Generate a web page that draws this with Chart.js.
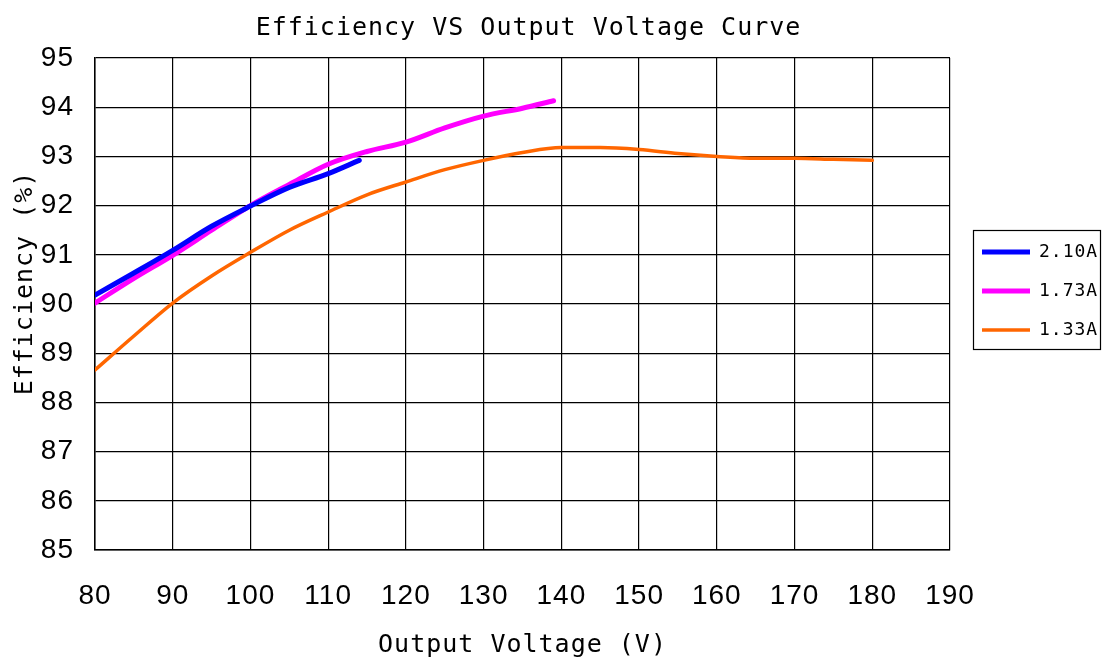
<!DOCTYPE html>
<html>
<head>
<meta charset="utf-8">
<script src="https://cdn.jsdelivr.net/npm/chart.js"></script>
<style>
html,body{margin:0;padding:0;background:#fff;}
#wrap{width:1103px;height:664px;}
</style>
</head>
<body>
<div id="wrap"><canvas id="c"></canvas></div>
<script>
const chartTitle = 'Efficiency VS Output Voltage Curve';
const xTitle = 'Output Voltage (V)';
const yTitle = 'Efficiency (%)';
const seriesNames = ['2.10A', '1.73A', '1.33A'];

const volt210 = [80, 85, 90, 95, 100, 105, 110, 114];
const eff210  = [90.18, 90.63, 91.09, 91.58, 91.99, 92.37, 92.65, 92.92];

const volt173 = [80, 85, 90, 95, 100, 105, 110, 115, 120, 125, 130, 135, 139];
const eff173  = [90.02, 90.52, 90.99, 91.5, 92.0, 92.43, 92.84, 93.1, 93.29, 93.58, 93.82, 93.98, 94.13];

const volt133 = [80, 85, 90, 95, 100, 105, 110, 115, 120, 125, 130, 135, 140, 145, 150, 155, 160, 165, 170, 175, 180];
const eff133  = [88.66, 89.35, 90.02, 90.57, 91.05, 91.5, 91.87, 92.22, 92.48, 92.73, 92.92, 93.08, 93.18, 93.18, 93.14, 93.06, 93.0, 92.96, 92.96, 92.94, 92.92];

const xMin = 80, xMax = 190, xStep = 10;
const yMin = 85, yMax = 95, yStep = 1;

function pts(xs, ys){ return xs.map((x,i)=>({x:x, y:ys[i]})); }

const monoFont = "'DejaVu Sans Mono', 'Liberation Mono', monospace";
const tickFont = "'Liberation Sans', Arial, sans-serif";

const layoutPlugin = {
  id: 'layoutTweaks',
  afterInit(chart){
    const L = chart.legend;
    if (L && !L._fitPatched){
      const origFit = L.fit;
      L.fit = function(){ origFit.call(this); this.width = 153; };
      L._fitPatched = true;
    }
  },
  beforeLayout(chart){ chart.ctx.letterSpacing = '1px'; },
  beforeDraw(chart){ chart.ctx.letterSpacing = '1px'; },
  afterLayout(chart){
    const L = chart.legend;
    if (L){ L.left += 11; L.right += 11; L.top -= 41; L.bottom -= 41; }
    const T = chart.titleBlock;
    if (T){ T.left += 6; T.right += 6; }
    const s = chart.scales.y;
    if (s && !s._titlePatched){
      const orig = s.drawTitle;
      s.drawTitle = function(){ const c = this.ctx; c.save(); c.translate(0, -21); orig.call(this); c.restore(); };
      s._titlePatched = true;
    }
  }
};

const legendBoxPlugin = {
  id: 'legendBox',
  afterDraw(chart){
    const L = chart.legend;
    if (!L || !L.legendHitBoxes || !L.legendHitBoxes.length) return;
    const hb = L.legendHitBoxes;
    const first = hb[0], last = hb[hb.length-1];
    const l = first.left - 9.5;
    const r = first.left + 117.5;
    const t = first.top + first.height/2 - 22;
    const b = last.top + last.height/2 + 19;
    const ctx = chart.ctx;
    ctx.save();
    ctx.strokeStyle = '#000';
    ctx.lineWidth = 1.2;
    ctx.strokeRect(Math.round(l)+0.5, Math.round(t)+0.5, Math.round(r-l), Math.round(b-t));
    ctx.restore();
  }
};

new Chart(document.getElementById('c'), {
  type: 'line',
  data: {
    datasets: [
      { label: seriesNames[0], data: pts(volt210, eff210), borderColor: '#0000ff', backgroundColor: '#0000ff', borderWidth: 5, borderCapStyle: 'round', pointRadius: 0, cubicInterpolationMode: 'monotone', fill: false },
      { label: seriesNames[1], data: pts(volt173, eff173), borderColor: '#ff00ff', backgroundColor: '#ff00ff', borderWidth: 5, borderCapStyle: 'round', pointRadius: 0, cubicInterpolationMode: 'monotone', fill: false },
      { label: seriesNames[2], data: pts(volt133, eff133), borderColor: '#ff6600', backgroundColor: '#ff6600', borderWidth: 3.5, borderCapStyle: 'round', pointRadius: 0, cubicInterpolationMode: 'monotone', fill: false }
    ]
  },
  options: {
    responsive: true,
    maintainAspectRatio: false,
    animation: false,
    layout: { padding: { left: 0, right: 0, top: 0, bottom: 0 } },
    plugins: {
      title: {
        display: true, text: chartTitle, color: '#000', fullSize: false,
        font: { family: monoFont, size: 25, weight: 'normal', lineHeight: 1.2 },
        padding: { top: 13, bottom: 15 }
      },
      legend: {
        position: 'right',
        labels: {
          color: '#000',
          font: { family: monoFont, size: 18, weight: 'normal' },
          usePointStyle: true, pointStyle: 'line', pointStyleWidth: 48,
          padding: 21
        }
      },
      tooltip: { enabled: false }
    },
    scales: {
      x: {
        type: 'linear', min: xMin, max: xMax,
        ticks: { stepSize: xStep, color: '#000', padding: 29, font: { family: tickFont, size: 28 } },
        grid: { color: '#000', lineWidth: 1.2, drawTicks: false },
        border: { color: '#000', width: 1.5 },
        title: { display: true, text: xTitle, color: '#000', font: { family: monoFont, size: 25 }, padding: { top: 0, bottom: 4 } },
        afterFit(s){ s.height = 114; }
      },
      y: {
        type: 'linear', min: yMin, max: yMax,
        ticks: { stepSize: yStep, color: '#000', padding: 21, font: { family: tickFont, size: 28 } },
        grid: { color: '#000', lineWidth: 1.2, drawTicks: false },
        border: { color: '#000', width: 1.5 },
        title: { display: true, text: yTitle, color: '#000', font: { family: monoFont, size: 25 }, padding: { top: 10, bottom: 0 } },
        afterFit(s){ s.width = 95; }
      }
    }
  },
  plugins: [layoutPlugin, legendBoxPlugin]
});
</script>
</body>
</html>
